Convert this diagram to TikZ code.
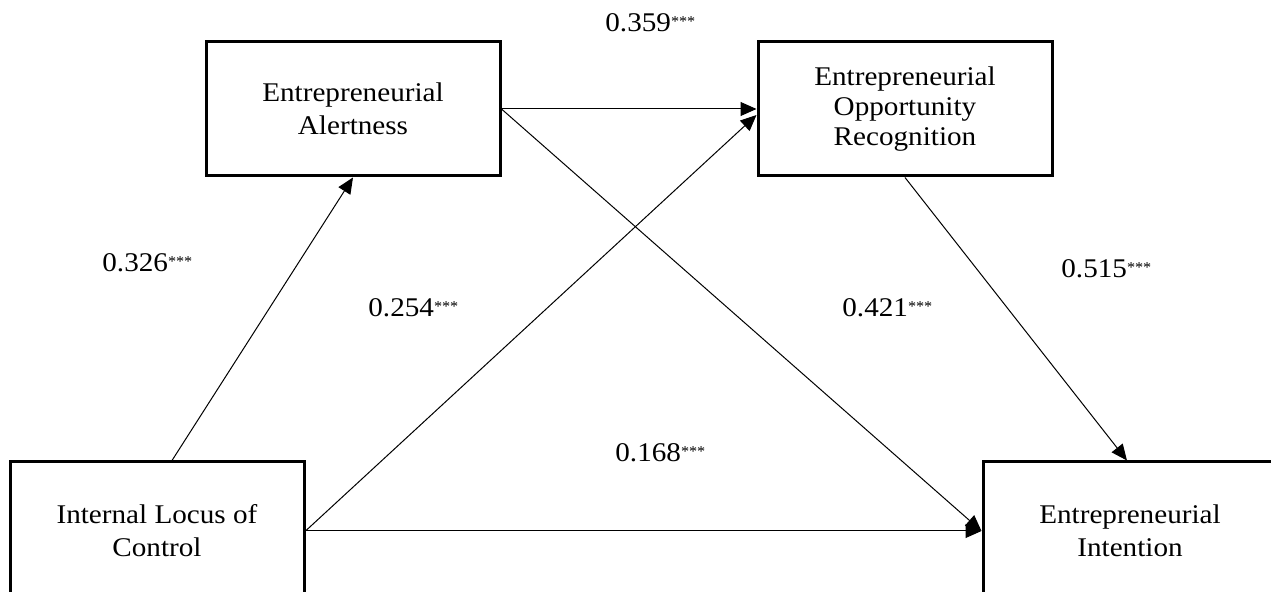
\documentclass[tikz,border=0pt]{standalone}
\usepackage{fontspec}
\setmainfont[FakeStretch=1.08]{Liberation Serif}
\usetikzlibrary{arrows.meta}
\newcommand\sig{\raisebox{2.7pt}{\fontsize{7.5}{7.5}\selectfont ***}}
\begin{document}
\begin{tikzpicture}[x=0.5pt,y=-0.5pt,
  box/.style={draw,line width=1.5pt,minimum width=147pt,minimum height=67pt,align=center,inner sep=0pt,font=\fontsize{13.5}{16.5}\selectfont},
  link/.style={line width=0.5pt,-{Triangle[length=8pt,width=7pt]}},
  coef/.style={anchor=base west,inner sep=0pt,font=\fontsize{13.5}{15}\selectfont}]
\useasboundingbox (0,0) rectangle (1271,592);
\clip (0,0) rectangle (1271,592);
\node[box] (al) at (353,109) {Entrepreneurial\\Alertness};
\node[box,font=\fontsize{13.5}{15}\selectfont] (eor) at (905,109) {Entrepreneurial\\Opportunity\\Recognition};
\node[box,minimum height=69pt] (ilc) at (157,531) {Internal Locus of\\Control};
\node[box,minimum height=69pt] (ei) at (1130,531) {Entrepreneurial\\Intention};
\draw[link] ([xshift=7.5pt]ilc.north) -- (al.south);
\draw[link] (ilc.east) -- ([yshift=-3pt]eor.west);
\draw[link] (al.east) -- (eor.west);
\draw[link] (al.east) -- (ei.west);
\draw[link] (ilc.east) -- (ei.west);
\draw[link] (eor.south) -- ([xshift=-1.5pt]ei.north);
\node[coef] (c1) at (605,32) {0.359\sig};
\node[coef] (c2) at (102,272) {0.326\sig};
\node[coef] (c3) at (368,317) {0.254\sig};
\node[coef] (c4) at (842,317) {0.421\sig};
\node[coef] (c5) at (1061,278) {0.515\sig};
\node[coef] (c6) at (615,462) {0.168\sig};
\end{tikzpicture}
\end{document}
